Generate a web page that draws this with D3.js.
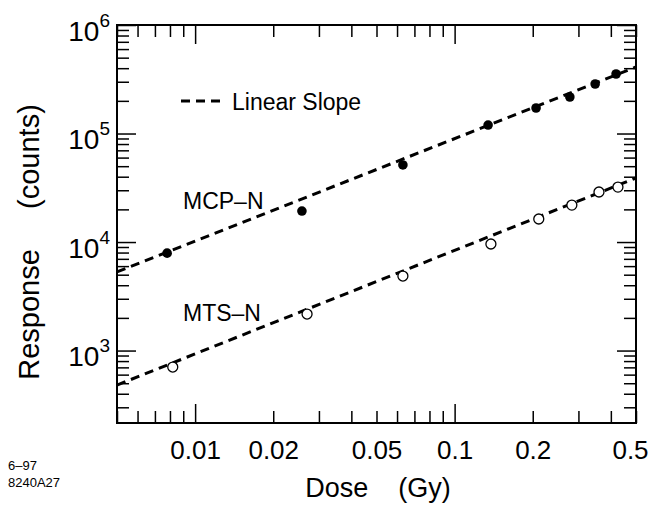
<!DOCTYPE html>
<html>
<head>
<meta charset="utf-8">
<script src="https://cdn.jsdelivr.net/npm/d3@7"></script>
<style>
  body { margin: 0; background: #fff; }
  text { font-family: "Liberation Sans", Arial, Helvetica, sans-serif; fill: #000; }
</style>
</head>
<body>
<div id="chart"></div>
<script>
// data
const doseMCP = [0.0078, 0.0258, 0.0632, 0.1346, 0.206, 0.278, 0.348, 0.419];
const respMCP = [7900, 19300, 51300, 119700, 171800, 217000, 286000, 353500];
const doseMTS = [0.0082, 0.027, 0.0632, 0.138, 0.211, 0.283, 0.36, 0.426];
const respMTS = [705, 2170, 4860, 9590, 16300, 21900, 28900, 32100];

// dashed "linear slope" fits, end points at the frame edges
const fitDose = [0.005, 0.5];
const fitMCP = [5300, 410000];
const fitMTS = [481, 38900];

const xLabels = [0.01, 0.02, 0.05, 0.1, 0.2, 0.5];
const yLabels = [1e3, 1e4, 1e5, 1e6];

const width = 652, height = 506;
const margin = {top: 25, right: 16, bottom: 83, left: 117};

const x = d3.scaleLog().domain([0.005, 0.5]).range([margin.left, width - margin.right]);
const y = d3.scaleLog().domain([215, 1e6]).range([height - margin.bottom, margin.top]);

const isDecade = v => Math.abs(Math.log10(v) - Math.round(Math.log10(v))) < 1e-6;
const xMajor = x.ticks().filter(isDecade);
const xMinor = x.ticks().filter(v => !isDecade(v));
const yMajor = y.ticks().filter(isDecade);
const yMinor = y.ticks().filter(v => !isDecade(v));

const svg = d3.select("#chart").append("svg")
    .attr("width", width)
    .attr("height", height)
    .attr("viewBox", [0, 0, width, height]);

const x0 = margin.left, x1 = width - margin.right;
const y0 = height - margin.bottom, y1 = margin.top;

// inward ticks on all four sides
function ticks(axis, values, size, transform) {
  svg.append("g")
      .attr("transform", transform)
      .call(axis.tickValues(values).tickSize(-size).tickFormat(""))
      .call(g => g.select(".domain").remove())
      .call(g => g.selectAll(".tick line").attr("stroke", "#000").attr("stroke-width", 1.5));
}
ticks(d3.axisBottom(x), xMinor, 12, `translate(0,${y0})`);
ticks(d3.axisBottom(x), xMajor, 19, `translate(0,${y0})`);
ticks(d3.axisTop(x), xMinor, 12, `translate(0,${y1})`);
ticks(d3.axisTop(x), xMajor, 19, `translate(0,${y1})`);
ticks(d3.axisLeft(y), yMinor, 12, `translate(${x0},0)`);
ticks(d3.axisLeft(y), yMajor, 19, `translate(${x0},0)`);
ticks(d3.axisRight(y), yMinor, 12, `translate(${x1},0)`);
ticks(d3.axisRight(y), yMajor, 19, `translate(${x1},0)`);

// frame
svg.append("rect")
    .attr("x", x0).attr("y", y1)
    .attr("width", x1 - x0).attr("height", y0 - y1)
    .attr("fill", "none").attr("stroke", "#000").attr("stroke-width", 2);

// x tick labels (last one nudged left so it stays on the page)
svg.append("g")
    .attr("transform", `translate(0,${y0})`)
    .call(d3.axisBottom(x).tickValues(xLabels).tickSize(0).tickPadding(18).tickFormat(d => String(d)))
    .call(g => g.select(".domain").remove())
    .call(g => g.selectAll("text").attr("font-size", 26).attr("font-family", null)
        .attr("dx", d => d === 0.5 ? -6 : 0));

// y tick labels as powers of ten
svg.append("g")
    .attr("transform", `translate(${x0},0)`)
    .call(d3.axisLeft(y).tickValues(yLabels).tickSize(0).tickPadding(7).tickFormat(""))
    .call(g => g.select(".domain").remove())
    .call(g => g.selectAll(".tick text")
        .attr("font-size", 28).attr("font-family", null).attr("dy", "0.55em")
        .each(function(d) {
          const t = d3.select(this);
          t.append("tspan").text("10");
          t.append("tspan").attr("font-size", 19).attr("dy", "-0.75em").text(Math.round(Math.log10(d)));
        }));

// fitted dashed lines
const line = d3.line().x(d => x(d[0])).y(d => y(d[1]));
[fitMCP, fitMTS].forEach(fit => {
  svg.append("path")
      .datum(d3.zip(fitDose, fit))
      .attr("d", line)
      .attr("fill", "none")
      .attr("stroke", "#000")
      .attr("stroke-width", 3)
      .attr("stroke-dasharray", "9,6");
});

// points
svg.append("g").selectAll("circle")
  .data(d3.zip(doseMCP, respMCP))
  .join("circle")
    .attr("cx", d => x(d[0]))
    .attr("cy", d => y(d[1]))
    .attr("r", 4.8)
    .attr("fill", "#000");

svg.append("g").selectAll("circle")
  .data(d3.zip(doseMTS, respMTS))
  .join("circle")
    .attr("cx", d => x(d[0]))
    .attr("cy", d => y(d[1]))
    .attr("r", 5)
    .attr("fill", "#fff")
    .attr("stroke", "#000")
    .attr("stroke-width", 1.3);

// legend
svg.append("line")
    .attr("x1", 181).attr("x2", 222).attr("y1", 101).attr("y2", 101)
    .attr("stroke", "#000").attr("stroke-width", 3).attr("stroke-dasharray", "9,6");
svg.append("text").attr("x", 232).attr("y", 110).attr("font-size", 23).text("Linear Slope");

// series labels
svg.append("text").attr("x", 183).attr("y", 209).attr("font-size", 23).text("MCP\u2013N");
svg.append("text").attr("x", 183).attr("y", 321).attr("font-size", 23).text("MTS\u2013N");

// axis titles
svg.append("text")
    .attr("x", 378).attr("y", 497)
    .attr("text-anchor", "middle").attr("font-size", 27)
    .style("white-space", "pre")
    .text("Dose    (Gy)");
svg.append("text")
    .attr("transform", "translate(39,242) rotate(-90)")
    .attr("text-anchor", "middle").attr("font-size", 29)
    .style("white-space", "pre")
    .text("Response     (counts)");

// figure code
svg.append("text").attr("x", 8).attr("y", 470).attr("font-size", 13).text("6\u201397");
svg.append("text").attr("x", 8).attr("y", 487).attr("font-size", 13).text("8240A27");
</script>
</body>
</html>
